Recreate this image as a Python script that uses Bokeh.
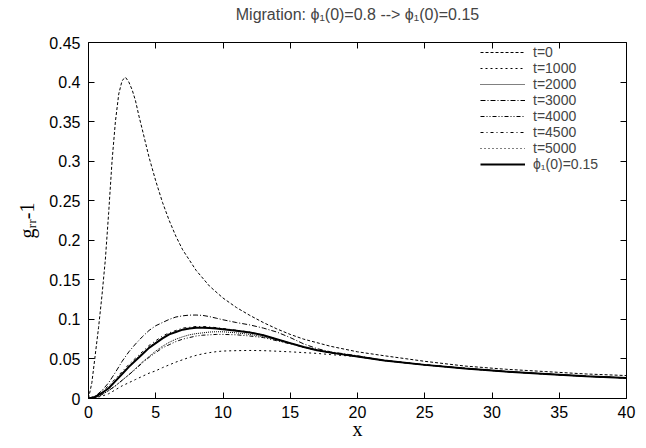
from bokeh.plotting import figure
from bokeh.models import Range1d, LinearAxis, Legend, LegendItem, FixedTicker
from bokeh.embed import file_html
from bokeh.resources import INLINE

# ---- data ----
x_t0 = [0, 0.25, 0.5, 0.75, 1.0, 1.25, 1.5, 1.75, 2.0, 2.25, 2.5, 2.75, 3.0, 3.25,
        3.5, 3.75, 4.0, 4.5, 5.0, 5.5, 6.0, 6.5, 7.0, 8.0, 9.0, 10, 11, 12, 13, 14,
        15, 16, 18, 20, 22, 25, 28, 31, 34, 37, 40]
g_t0 = [0, 0.02, 0.055, 0.09, 0.13, 0.175, 0.235, 0.30, 0.35, 0.385, 0.402, 0.406,
        0.400, 0.390, 0.376, 0.357, 0.340, 0.305, 0.275, 0.248, 0.225, 0.205, 0.188,
        0.162, 0.142, 0.127, 0.115, 0.105, 0.096, 0.088, 0.081, 0.075, 0.066, 0.059,
        0.054, 0.047, 0.041, 0.037, 0.034, 0.031, 0.029]

x_r = [0, 0.5, 1, 1.5, 2, 2.5, 3, 3.5, 4, 4.5, 5, 5.5, 6, 6.5, 7, 7.5, 8, 8.5, 9,
       9.5, 10, 11, 12, 13, 14, 15, 16, 17, 18, 20, 22, 25, 28, 31, 34, 37, 40]

g_t1000 = [0, 0.001, 0.003, 0.006, 0.011, 0.016, 0.020, 0.024, 0.028, 0.032, 0.035,
           0.039, 0.0425, 0.046, 0.049, 0.052, 0.0545, 0.0565, 0.058, 0.0592, 0.060,
           0.0605, 0.0607, 0.0605, 0.0598, 0.059, 0.058, 0.057, 0.0555, 0.053, 0.048,
           0.0425, 0.038, 0.034, 0.031, 0.028, 0.026]
g_t2000 = [0, 0.001, 0.005, 0.010, 0.016, 0.023, 0.030, 0.038, 0.046, 0.053, 0.060,
           0.066, 0.071, 0.075, 0.078, 0.0805, 0.082, 0.083, 0.084, 0.0844, 0.0843,
           0.083, 0.081, 0.078, 0.074, 0.0695, 0.065, 0.061, 0.058, 0.053, 0.048,
           0.0425, 0.038, 0.034, 0.031, 0.028, 0.026]
g_t3000 = [0, 0.003, 0.010, 0.020, 0.033, 0.047, 0.059, 0.069, 0.078, 0.086, 0.092,
           0.096, 0.100, 0.103, 0.1045, 0.1054, 0.1055, 0.105, 0.1035, 0.1015, 0.0995,
           0.096, 0.093, 0.089, 0.084, 0.077, 0.069, 0.063, 0.059, 0.054, 0.048,
           0.0425, 0.038, 0.034, 0.031, 0.028, 0.026]
g_t4000 = [0, 0.001, 0.005, 0.010, 0.016, 0.023, 0.030, 0.037, 0.045, 0.052, 0.058,
           0.064, 0.068, 0.072, 0.075, 0.077, 0.079, 0.080, 0.0805, 0.081, 0.081,
           0.0805, 0.079, 0.077, 0.073, 0.069, 0.065, 0.061, 0.058, 0.053, 0.048,
           0.0425, 0.038, 0.034, 0.031, 0.028, 0.026]
g_t4500 = [0, 0.003, 0.009, 0.016, 0.025, 0.034, 0.043, 0.051, 0.059, 0.067, 0.073,
           0.079, 0.083, 0.086, 0.089, 0.090, 0.091, 0.091, 0.0905, 0.0895, 0.0885,
           0.0862, 0.084, 0.080, 0.075, 0.070, 0.065, 0.061, 0.058, 0.053, 0.048,
           0.0425, 0.038, 0.034, 0.031, 0.028, 0.026]
g_t5000 = [0, 0.002, 0.007, 0.014, 0.022, 0.031, 0.041, 0.049, 0.057, 0.065, 0.071,
           0.077, 0.081, 0.084, 0.087, 0.0885, 0.0895, 0.0897, 0.0893, 0.0886, 0.0876,
           0.0856, 0.0835, 0.080, 0.075, 0.070, 0.065, 0.061, 0.058, 0.053, 0.048,
           0.0425, 0.038, 0.034, 0.031, 0.028, 0.026]
g_final = [0, 0.002, 0.007, 0.013, 0.022, 0.031, 0.040, 0.048, 0.056, 0.064, 0.070,
           0.076, 0.081, 0.084, 0.087, 0.0885, 0.0893, 0.0895, 0.0892, 0.0885, 0.0875,
           0.0855, 0.0835, 0.080, 0.075, 0.070, 0.065, 0.061, 0.058, 0.053, 0.048,
           0.0425, 0.038, 0.034, 0.031, 0.028, 0.026]

series_labels = ["t=0", "t=1000", "t=2000", "t=3000", "t=4000", "t=4500", "t=5000",
                 "\u03d5\u2081(0)=0.15"]

x_ticks = [0, 5, 10, 15, 20, 25, 30, 35, 40]
x_tick_labels = ["0", "5", "10", "15", "20", "25", "30", "35", "40"]
y_ticks = [0, 0.05, 0.1, 0.15, 0.2, 0.25, 0.3, 0.35, 0.4, 0.45]
y_tick_labels = ["0", "0.05", "0.1", "0.15", "0.2", "0.25", "0.3", "0.35", "0.4", "0.45"]

title_text = "Migration: \u03d5\u2081(0)=0.8 --> \u03d5\u2081(0)=0.15"
x_label = "x"
y_label = "g\u1d63\u1d63-1"

SANS = "Liberation Sans"
SERIF = "Liberation Serif"

FW, FH = 538, 356
p = figure(frame_width=FW, frame_height=FH,
           x_range=Range1d(0, 40), y_range=Range1d(0, 0.45),
           output_backend="svg", toolbar_location=None,
           min_border_left=88, min_border_right=20,
           min_border_top=42, min_border_bottom=50,
           title=title_text)
p.title.align = "center"
p.title.text_font = SANS
p.title.text_font_size = "16px"
p.title.text_font_style = "normal"
p.title.standoff = 0
p.grid.visible = False
p.outline_line_color = None
p.background_fill_color = "white"
p.border_fill_color = "white"

def style_axis(ax, ticks, labels, show_labels, standoff=6):
    ax.ticker = FixedTicker(ticks=ticks)
    ax.major_label_overrides = {t: l for t, l in zip(ticks, labels)}
    ax.major_tick_in = 6
    ax.major_tick_out = 0
    ax.minor_tick_line_color = None
    ax.axis_line_color = "black"
    ax.major_tick_line_color = "black"
    ax.major_label_text_font = SANS
    ax.major_label_text_color = "black"
    ax.major_label_standoff = standoff
    if show_labels:
        ax.major_label_text_font_size = "16px"
    else:
        ax.major_label_text_font_size = "0px"

style_axis(p.xaxis[0], x_ticks, x_tick_labels, True, 7)
style_axis(p.yaxis[0], y_ticks, y_tick_labels, True, 8)
p.xaxis[0].axis_label = x_label
p.yaxis[0].axis_label = y_label
for ax in (p.xaxis[0], p.yaxis[0]):
    ax.axis_label_text_font = SERIF
    ax.axis_label_text_font_size = "20px"
    ax.axis_label_text_font_style = "normal"
    ax.axis_label_text_color = "black"
p.xaxis[0].axis_label_standoff = -3
p.yaxis[0].axis_label_standoff = 8

top_axis = LinearAxis()
style_axis(top_axis, x_ticks, [""] * len(x_ticks), False, 0)
top_axis.axis_label = " "
top_axis.axis_label_text_font_size = "16px"
top_axis.axis_label_standoff = 0
p.add_layout(top_axis, "above")
right_axis = LinearAxis()
style_axis(right_axis, y_ticks, [""] * len(y_ticks), False, 0)
p.add_layout(right_axis, "right")

xs = [x_t0, x_r, x_r, x_r, x_r, x_r, x_r, x_r]
ys = [g_t0, g_t1000, g_t2000, g_t3000, g_t4000, g_t4500, g_t5000, g_final]
dashes = ["3 2", "2 3", "1 1", "5 2 1 2", "4 2 1 2 1 2", "3 3 1 3", "1 3", "solid"]
widths = [1, 1, 1, 1, 1, 1, 1, 2]

items = []
for xx, yy, lab, d, w in zip(xs, ys, series_labels, dashes, widths):
    r = p.line(xx, yy, line_color="black", line_width=w, line_dash=d)
    items.append(LegendItem(label=lab, renderers=[r]))

legend = Legend(items=items, location=(392, 226))
legend.border_line_color = None
legend.background_fill_alpha = 0
legend.label_text_font = SANS
legend.label_text_font_size = "14px"
legend.glyph_width = 45
legend.glyph_height = 10
legend.label_height = 10
legend.spacing = 0
legend.padding = 0
legend.margin = 0
legend.label_standoff = 8
p.add_layout(legend)

open("out.html", "w").write(file_html(p, INLINE))
